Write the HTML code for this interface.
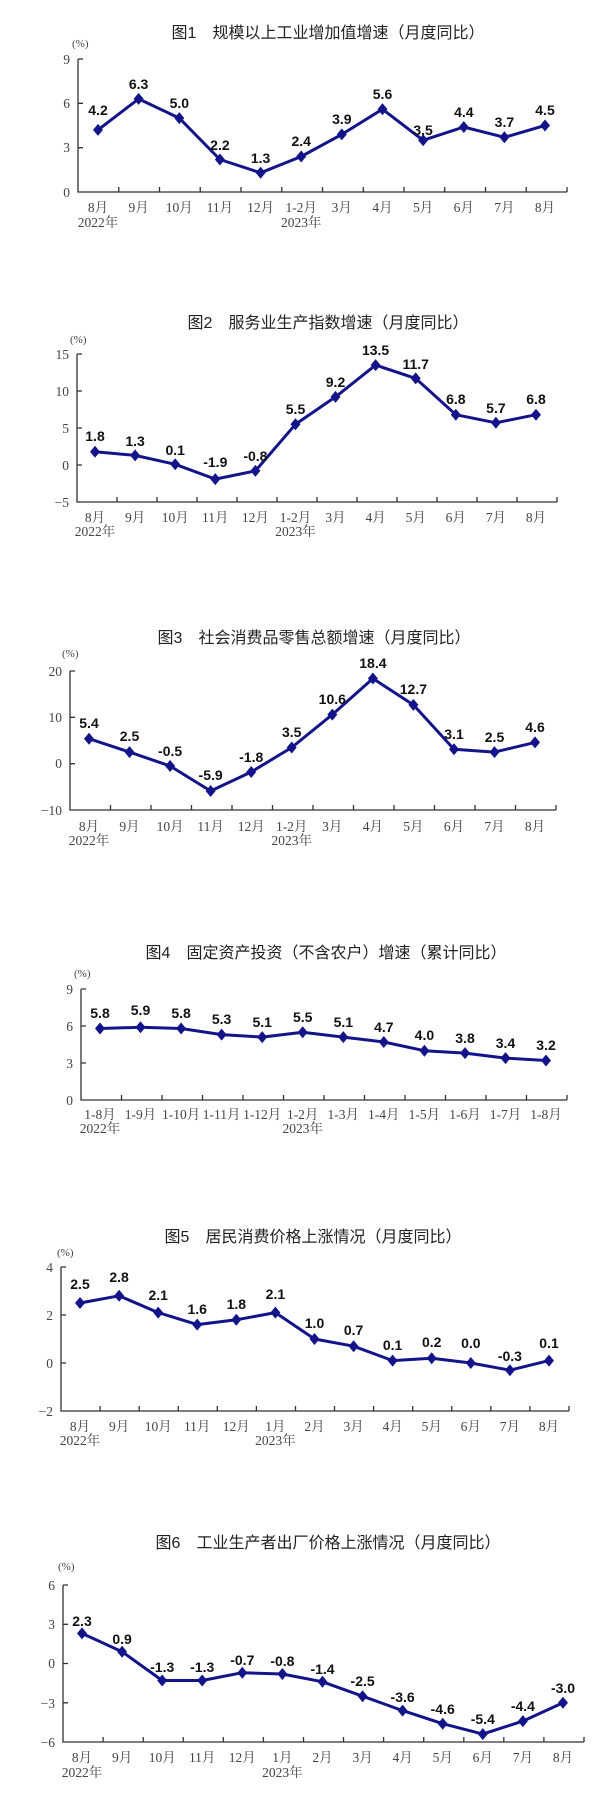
<!DOCTYPE html>
<html><head><meta charset="utf-8"><style>
html,body{margin:0;padding:0;background:#fff;}
svg{display:block;}
.t{font-family:"Liberation Sans","Noto Sans CJK SC",sans-serif;font-size:16px;fill:#222;text-anchor:middle;}
.ax{font-family:"Liberation Serif","Noto Serif CJK SC",serif;font-size:13.5px;fill:#444;}
.xl{text-anchor:middle;}
.yl{text-anchor:end;}
.d{font-family:"Liberation Sans",sans-serif;font-size:14px;font-weight:bold;fill:#111;text-anchor:middle;}
.ln{fill:none;stroke:#14148a;stroke-width:3;stroke-linejoin:round;}
.axis{stroke:#333;stroke-width:1.3;fill:none;}
</style></head><body>
<svg width="609" height="1815" viewBox="0 0 609 1815" xmlns="http://www.w3.org/2000/svg">
<defs><path id="m" d="M0,-6 L5,0 L0,6 L-5,0Z" fill="#14148a"/></defs>

<!-- Chart 1 -->
<text class="t" x="328" y="38">图1　规模以上工业增加值增速（月度同比）</text>
<text class="ax" x="72" y="47" style="font-size:11px">(%)</text>
<path class="axis" d="M78,59 V192 H567 M78,59H83 M78,103.3H83 M78,147.7H83 M118.75,192v-5 M159.5,192v-5 M200.25,192v-5 M241,192v-5 M281.75,192v-5 M322.5,192v-5 M363.25,192v-5 M404,192v-5 M444.75,192v-5 M485.5,192v-5 M526.25,192v-5 M567,192v-5"/>
<g class="ax yl"><text x="70" y="64">9</text><text x="70" y="108">6</text><text x="70" y="152">3</text><text x="70" y="197">0</text></g>
<g class="ax xl"><text x="98" y="212">8月</text><text x="138.6" y="212">9月</text><text x="179.3" y="212">10月</text><text x="219.9" y="212">11月</text><text x="260.6" y="212">12月</text><text x="301.2" y="212">1-2月</text><text x="341.8" y="212">3月</text><text x="382.5" y="212">4月</text><text x="423.1" y="212">5月</text><text x="463.8" y="212">6月</text><text x="504.4" y="212">7月</text><text x="545" y="212">8月</text><text x="98" y="227">2022年</text><text x="301.2" y="227">2023年</text></g>
<polyline class="ln" points="98,129.9 138.6,98.9 179.3,118.1 219.9,159.5 260.6,172.8 301.2,156.5 341.8,134.4 382.5,109.2 423.1,140.3 463.8,127 504.4,137.3 545,125.5"/>
<g><use href="#m" x="98" y="129.9"/><use href="#m" x="138.6" y="98.9"/><use href="#m" x="179.3" y="118.1"/><use href="#m" x="219.9" y="159.5"/><use href="#m" x="260.6" y="172.8"/><use href="#m" x="301.2" y="156.5"/><use href="#m" x="341.8" y="134.4"/><use href="#m" x="382.5" y="109.2"/><use href="#m" x="423.1" y="140.3"/><use href="#m" x="463.8" y="127"/><use href="#m" x="504.4" y="137.3"/><use href="#m" x="545" y="125.5"/></g>
<g class="d"><text x="98" y="115">4.2</text><text x="138.6" y="89">6.3</text><text x="179.3" y="108">5.0</text><text x="219.9" y="150">2.2</text><text x="260.6" y="163">1.3</text><text x="301.2" y="146">2.4</text><text x="341.8" y="124">3.9</text><text x="382.5" y="99">5.6</text><text x="423.1" y="135">3.5</text><text x="463.8" y="117">4.4</text><text x="504.4" y="127">3.7</text><text x="545" y="115">4.5</text></g>

<!-- Chart 2 -->
<text class="t" x="328" y="328">图2　服务业生产指数增速（月度同比）</text>
<text class="ax" x="70" y="343" style="font-size:11px">(%)</text>
<path class="axis" d="M77,354 V502 H557 M77,354H82 M77,391H82 M77,428H82 M77,465H82 M117,502v-5 M157,502v-5 M197,502v-5 M237,502v-5 M277,502v-5 M317,502v-5 M357,502v-5 M397,502v-5 M437,502v-5 M477,502v-5 M517,502v-5 M557,502v-5"/>
<g class="ax yl"><text x="69" y="359">15</text><text x="69" y="396">10</text><text x="69" y="433">5</text><text x="69" y="470">0</text><text x="69" y="507">−5</text></g>
<g class="ax xl"><text x="95" y="522">8月</text><text x="135.1" y="522">9月</text><text x="175.2" y="522">10月</text><text x="215.3" y="522">11月</text><text x="255.4" y="522">12月</text><text x="295.5" y="522">1-2月</text><text x="335.5" y="522">3月</text><text x="375.6" y="522">4月</text><text x="415.7" y="522">5月</text><text x="455.8" y="522">6月</text><text x="495.9" y="522">7月</text><text x="536" y="522">8月</text><text x="95" y="536">2022年</text><text x="295.5" y="536">2023年</text></g>
<polyline class="ln" points="95,451.7 135.1,455.4 175.2,464.3 215.3,479.1 255.4,470.9 295.5,424.3 335.5,396.9 375.6,365.1 415.7,378.4 455.8,414.7 495.9,422.8 536,414.7"/>
<g><use href="#m" x="95" y="451.7"/><use href="#m" x="135.1" y="455.4"/><use href="#m" x="175.2" y="464.3"/><use href="#m" x="215.3" y="479.1"/><use href="#m" x="255.4" y="470.9"/><use href="#m" x="295.5" y="424.3"/><use href="#m" x="335.5" y="396.9"/><use href="#m" x="375.6" y="365.1"/><use href="#m" x="415.7" y="378.4"/><use href="#m" x="455.8" y="414.7"/><use href="#m" x="495.9" y="422.8"/><use href="#m" x="536" y="414.7"/></g>
<g class="d"><text x="95" y="441">1.8</text><text x="135.1" y="446">1.3</text><text x="175.2" y="455">0.1</text><text x="215.3" y="467">-1.9</text><text x="255.4" y="461">-0.8</text><text x="295.5" y="414">5.5</text><text x="335.5" y="387">9.2</text><text x="375.6" y="355">13.5</text><text x="415.7" y="369">11.7</text><text x="455.8" y="404">6.8</text><text x="495.9" y="413">5.7</text><text x="536" y="404">6.8</text></g>

<!-- Chart 3 -->
<text class="t" x="314" y="643">图3　社会消费品零售总额增速（月度同比）</text>
<text class="ax" x="62" y="657" style="font-size:11px">(%)</text>
<path class="axis" d="M70,671 V810 H556 M70,671H75 M70,717.3H75 M70,763.7H75 M110.5,810v-5 M151,810v-5 M191.5,810v-5 M232,810v-5 M272.5,810v-5 M313,810v-5 M353.5,810v-5 M394,810v-5 M434.5,810v-5 M475,810v-5 M515.5,810v-5 M556,810v-5"/>
<g class="ax yl"><text x="62" y="676">20</text><text x="62" y="722">10</text><text x="62" y="768">0</text><text x="62" y="815">−10</text></g>
<g class="ax xl"><text x="89" y="831">8月</text><text x="129.5" y="831">9月</text><text x="170.1" y="831">10月</text><text x="210.6" y="831">11月</text><text x="251.2" y="831">12月</text><text x="291.7" y="831">1-2月</text><text x="332.3" y="831">3月</text><text x="372.9" y="831">4月</text><text x="413.4" y="831">5月</text><text x="454" y="831">6月</text><text x="494.5" y="831">7月</text><text x="535" y="831">8月</text><text x="89" y="845">2022年</text><text x="291.7" y="845">2023年</text></g>
<polyline class="ln" points="89,738.7 129.5,752.1 170.1,766 210.6,791 251.2,772 291.7,747.5 332.3,714.6 372.9,678.5 413.4,704.9 454,749.3 494.5,752.1 535,742.4"/>
<g><use href="#m" x="89" y="738.7"/><use href="#m" x="129.5" y="752.1"/><use href="#m" x="170.1" y="766"/><use href="#m" x="210.6" y="791"/><use href="#m" x="251.2" y="772"/><use href="#m" x="291.7" y="747.5"/><use href="#m" x="332.3" y="714.6"/><use href="#m" x="372.9" y="678.5"/><use href="#m" x="413.4" y="704.9"/><use href="#m" x="454" y="749.3"/><use href="#m" x="494.5" y="752.1"/><use href="#m" x="535" y="742.4"/></g>
<g class="d"><text x="89" y="728">5.4</text><text x="129.5" y="741">2.5</text><text x="170.1" y="756">-0.5</text><text x="210.6" y="780">-5.9</text><text x="251.2" y="762">-1.8</text><text x="291.7" y="737">3.5</text><text x="332.3" y="704">10.6</text><text x="372.9" y="668">18.4</text><text x="413.4" y="694">12.7</text><text x="454" y="739">3.1</text><text x="494.5" y="742">2.5</text><text x="535" y="732">4.6</text></g>

<!-- Chart 4 -->
<text class="t" x="326" y="958">图4　固定资产投资（不含农户）增速（累计同比）</text>
<text class="ax" x="74" y="977" style="font-size:11px">(%)</text>
<path class="axis" d="M81,989 V1100 H567 M81,989H86 M81,1026H86 M81,1063H86 M121.5,1100v-5 M162,1100v-5 M202.5,1100v-5 M243,1100v-5 M283.5,1100v-5 M324,1100v-5 M364.5,1100v-5 M405,1100v-5 M445.5,1100v-5 M486,1100v-5 M526.5,1100v-5 M567,1100v-5"/>
<g class="ax yl"><text x="73" y="994">9</text><text x="73" y="1031">6</text><text x="73" y="1068">3</text><text x="73" y="1105">0</text></g>
<g class="ax xl"><text x="100" y="1119">1-8月</text><text x="140.5" y="1119">1-9月</text><text x="181.1" y="1119">1-10月</text><text x="221.6" y="1119">1-11月</text><text x="262.2" y="1119">1-12月</text><text x="302.7" y="1119">1-2月</text><text x="343.3" y="1119">1-3月</text><text x="383.8" y="1119">1-4月</text><text x="424.4" y="1119">1-5月</text><text x="465" y="1119">1-6月</text><text x="505.5" y="1119">1-7月</text><text x="546" y="1119">1-8月</text><text x="100" y="1133">2022年</text><text x="302.7" y="1133">2023年</text></g>
<polyline class="ln" points="100,1028.5 140.5,1027.3 181.1,1028.5 221.6,1034.6 262.2,1037.1 302.7,1032.2 343.3,1037.1 383.8,1042 424.4,1050.7 465,1053.1 505.5,1058.1 546,1060.5"/>
<g><use href="#m" x="100" y="1028.5"/><use href="#m" x="140.5" y="1027.3"/><use href="#m" x="181.1" y="1028.5"/><use href="#m" x="221.6" y="1034.6"/><use href="#m" x="262.2" y="1037.1"/><use href="#m" x="302.7" y="1032.2"/><use href="#m" x="343.3" y="1037.1"/><use href="#m" x="383.8" y="1042"/><use href="#m" x="424.4" y="1050.7"/><use href="#m" x="465" y="1053.1"/><use href="#m" x="505.5" y="1058.1"/><use href="#m" x="546" y="1060.5"/></g>
<g class="d"><text x="100" y="1018">5.8</text><text x="140.5" y="1015">5.9</text><text x="181.1" y="1018">5.8</text><text x="221.6" y="1024">5.3</text><text x="262.2" y="1027">5.1</text><text x="302.7" y="1022">5.5</text><text x="343.3" y="1027">5.1</text><text x="383.8" y="1032">4.7</text><text x="424.4" y="1040">4.0</text><text x="465" y="1043">3.8</text><text x="505.5" y="1048">3.4</text><text x="546" y="1050">3.2</text></g>

<!-- Chart 5 -->
<text class="t" x="313" y="1242">图5　居民消费价格上涨情况（月度同比）</text>
<text class="ax" x="57" y="1256" style="font-size:11px">(%)</text>
<path class="axis" d="M61,1267 V1411 H569 M61,1267H66 M61,1315H66 M61,1363H66 M100.1,1411v-5 M139.2,1411v-5 M178.2,1411v-5 M217.3,1411v-5 M256.4,1411v-5 M295.5,1411v-5 M334.5,1411v-5 M373.6,1411v-5 M412.7,1411v-5 M451.8,1411v-5 M490.8,1411v-5 M529.9,1411v-5 M569,1411v-5"/>
<g class="ax yl"><text x="53" y="1272">4</text><text x="53" y="1320">2</text><text x="53" y="1368">0</text><text x="53" y="1416">−2</text></g>
<g class="ax xl"><text x="80" y="1431">8月</text><text x="119.1" y="1431">9月</text><text x="158.2" y="1431">10月</text><text x="197.2" y="1431">11月</text><text x="236.3" y="1431">12月</text><text x="275.4" y="1431">1月</text><text x="314.5" y="1431">2月</text><text x="353.6" y="1431">3月</text><text x="392.6" y="1431">4月</text><text x="431.7" y="1431">5月</text><text x="470.8" y="1431">6月</text><text x="509.9" y="1431">7月</text><text x="549" y="1431">8月</text><text x="80" y="1445">2022年</text><text x="275.4" y="1445">2023年</text></g>
<polyline class="ln" points="80,1303 119.1,1295.8 158.2,1312.6 197.2,1324.6 236.3,1319.8 275.4,1312.6 314.5,1339 353.6,1346.2 392.6,1360.6 431.7,1358.2 470.8,1363 509.9,1370.2 549,1360.6"/>
<g><use href="#m" x="80" y="1303"/><use href="#m" x="119.1" y="1295.8"/><use href="#m" x="158.2" y="1312.6"/><use href="#m" x="197.2" y="1324.6"/><use href="#m" x="236.3" y="1319.8"/><use href="#m" x="275.4" y="1312.6"/><use href="#m" x="314.5" y="1339"/><use href="#m" x="353.6" y="1346.2"/><use href="#m" x="392.6" y="1360.6"/><use href="#m" x="431.7" y="1358.2"/><use href="#m" x="470.8" y="1363"/><use href="#m" x="509.9" y="1370.2"/><use href="#m" x="549" y="1360.6"/></g>
<g class="d"><text x="80" y="1289">2.5</text><text x="119.1" y="1282">2.8</text><text x="158.2" y="1300">2.1</text><text x="197.2" y="1314">1.6</text><text x="236.3" y="1309">1.8</text><text x="275.4" y="1299">2.1</text><text x="314.5" y="1328">1.0</text><text x="353.6" y="1335">0.7</text><text x="392.6" y="1350">0.1</text><text x="431.7" y="1347">0.2</text><text x="470.8" y="1348">0.0</text><text x="509.9" y="1361">-0.3</text><text x="549" y="1348">0.1</text></g>

<!-- Chart 6 -->
<text class="t" x="328" y="1548">图6　工业生产者出厂价格上涨情况（月度同比）</text>
<text class="ax" x="58" y="1570" style="font-size:11px">(%)</text>
<path class="axis" d="M63,1585 V1742 H584 M63,1585H68 M63,1624.3H68 M63,1663.5H68 M63,1702.8H68 M103.1,1742v-5 M143.2,1742v-5 M183.2,1742v-5 M223.3,1742v-5 M263.4,1742v-5 M303.5,1742v-5 M343.5,1742v-5 M383.6,1742v-5 M423.7,1742v-5 M463.8,1742v-5 M503.8,1742v-5 M543.9,1742v-5 M584,1742v-5"/>
<g class="ax yl"><text x="55" y="1590">6</text><text x="55" y="1629">3</text><text x="55" y="1668">0</text><text x="55" y="1708">−3</text><text x="55" y="1747">−6</text></g>
<g class="ax xl"><text x="82" y="1762">8月</text><text x="122.1" y="1762">9月</text><text x="162.2" y="1762">10月</text><text x="202.2" y="1762">11月</text><text x="242.3" y="1762">12月</text><text x="282.4" y="1762">1月</text><text x="322.5" y="1762">2月</text><text x="362.6" y="1762">3月</text><text x="402.6" y="1762">4月</text><text x="442.7" y="1762">5月</text><text x="482.8" y="1762">6月</text><text x="522.9" y="1762">7月</text><text x="563" y="1762">8月</text><text x="82" y="1777">2022年</text><text x="282.4" y="1777">2023年</text></g>
<polyline class="ln" points="82,1633.4 122.1,1651.7 162.2,1680.5 202.2,1680.5 242.3,1672.7 282.4,1674 322.5,1681.8 362.6,1696.2 402.6,1710.6 442.7,1723.7 482.8,1734.1 522.9,1721.1 563,1702.7"/>
<g><use href="#m" x="82" y="1633.4"/><use href="#m" x="122.1" y="1651.7"/><use href="#m" x="162.2" y="1680.5"/><use href="#m" x="202.2" y="1680.5"/><use href="#m" x="242.3" y="1672.7"/><use href="#m" x="282.4" y="1674"/><use href="#m" x="322.5" y="1681.8"/><use href="#m" x="362.6" y="1696.2"/><use href="#m" x="402.6" y="1710.6"/><use href="#m" x="442.7" y="1723.7"/><use href="#m" x="482.8" y="1734.1"/><use href="#m" x="522.9" y="1721.1"/><use href="#m" x="563" y="1702.7"/></g>
<g class="d"><text x="82" y="1626">2.3</text><text x="122.1" y="1644">0.9</text><text x="162.2" y="1672">-1.3</text><text x="202.2" y="1672">-1.3</text><text x="242.3" y="1665">-0.7</text><text x="282.4" y="1666">-0.8</text><text x="322.5" y="1674">-1.4</text><text x="362.6" y="1686">-2.5</text><text x="402.6" y="1702">-3.6</text><text x="442.7" y="1714">-4.6</text><text x="482.8" y="1724">-5.4</text><text x="522.9" y="1711">-4.4</text><text x="563" y="1693">-3.0</text></g>
</svg>
</body></html>
